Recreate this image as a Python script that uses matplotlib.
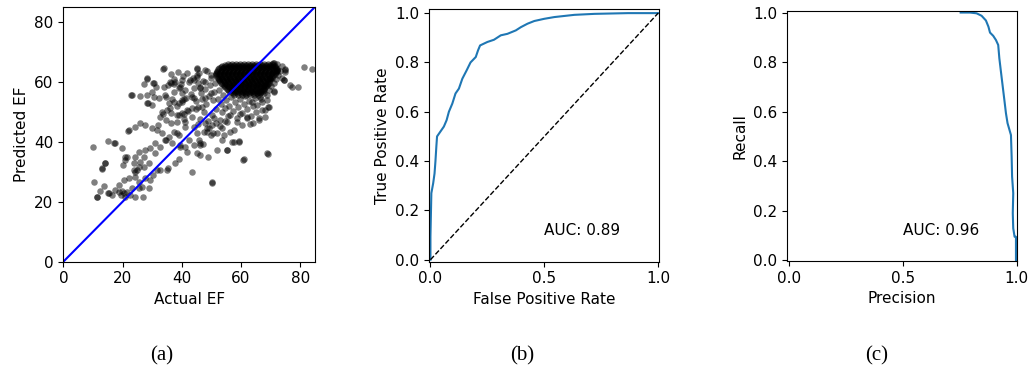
import matplotlib
matplotlib.use('Agg')
import matplotlib.pyplot as plt

# --- (a) actual vs predicted EF, sparse points
ef_actual = [10.1, 10.2, 11.3, 11.4, 13.0, 12.5, 13.1, 13.6, 14.0, 14.2, 15.0, 15.1, 15.3, 16.4, 17.0,
             17.3, 17.3, 18.7, 18.7, 19.3, 19.7, 19.8, 20.0, 20.4, 20.4, 20.8, 20.9, 20.9, 21.5, 21.5,
             22.0, 22.1, 22.1, 22.5, 23.0, 23.2, 23.2, 23.7, 23.8, 24.1, 24.3, 24.3, 24.3, 24.3, 24.9,
             25.4, 25.4, 25.4, 25.4, 26.0, 26.0, 26.0, 26.5, 27.0, 27.1, 27.1, 27.1, 27.6, 27.7, 27.7,
             28.2, 28.3, 28.3, 28.3, 28.7, 28.8, 28.8, 29.3, 29.4, 29.9, 30.0, 30.0, 30.2, 30.4, 30.5,
             30.5, 31.1, 31.1, 31.3, 31.7, 31.7, 32.1, 32.2, 32.7, 32.8, 32.8, 33.3, 33.3, 33.6, 33.8,
             34.1, 34.1, 34.3, 34.5, 34.5, 34.5, 34.9, 35.0, 35.4, 35.6, 35.6, 36.0, 36.5, 36.5, 36.5,
             36.7, 37.2, 37.3, 37.3, 37.7, 37.8, 38.3, 38.4, 38.4, 38.9, 39.0, 39.0, 39.4, 39.5, 39.5,
             40.0, 40.0, 40.1, 40.1, 40.6, 40.6, 41.1, 41.2, 41.2, 41.7, 41.8, 42.3, 42.8, 43.4, 43.4,
             43.5, 44.0, 44.0, 44.0, 45.0, 45.0, 45.0, 45.2, 45.2, 45.2, 45.6, 45.7, 46.2, 46.2, 46.2,
             46.3, 46.3, 46.9, 47.3, 47.4, 47.9, 48.0, 48.0, 48.0, 48.5, 48.5, 49.0, 49.7, 49.7, 49.7,
             50.1, 50.1, 50.2, 50.7, 50.8, 51.8, 51.9, 53.0, 53.5, 53.6, 54.2, 55.1, 55.2, 55.3, 56.4,
             56.4, 56.9, 57.5, 57.5, 58.7, 59.2, 59.2, 59.8, 60.4, 60.8, 60.9, 62.0, 62.0, 62.9, 63.8,
             64.2, 64.9, 65.4, 65.9, 66.0, 66.6, 67.1, 68.2, 68.2, 68.7, 68.8, 69.0, 69.2, 69.3, 69.9,
             71.0, 71.0, 71.0, 72.1, 72.2, 73.9, 74.4, 74.4, 74.9, 74.9, 75.0, 76.6, 77.3, 79.2, 81.1,
             83.9]
ef_predicted = [38.3, 26.7, 21.7, 21.7, 31.0, 23.7, 31.1, 25.3, 32.8, 32.8, 22.8, 40.3, 22.8, 22.2, 39.5,
                39.5, 23.9, 25.6, 23.3, 22.2, 23.5, 37.8, 32.4, 27.2, 22.8, 35.0, 21.7, 33.9, 23.3, 35.0,
                43.7, 43.9, 27.8, 22.3, 55.6, 55.6, 24.5, 30.5, 32.8, 30.0, 45.0, 35.0, 21.7, 28.3, 30.6,
                36.7, 31.7, 24.5, 26.7, 55.2, 33.3, 46.1, 25.0, 21.7, 59.2, 35.0, 31.7, 27.8, 45.6, 37.2,
                60.8, 61.1, 55.6, 52.8, 52.8, 32.8, 24.5, 27.2, 37.8, 56.7, 52.2, 44.5, 59.7, 28.9, 59.5,
                55.0, 39.5, 36.1, 58.3, 43.9, 30.6, 45.5, 54.5, 30.5, 48.3, 38.3, 50.0, 42.8, 49.4, 64.4,
                64.5, 58.3, 40.6, 54.8, 47.2, 40.6, 30.5, 50.6, 31.1, 52.8, 41.7, 60.0, 59.5, 49.5, 46.3,
                39.5, 59.4, 53.3, 43.3, 32.8, 60.0, 42.8, 48.9, 46.7, 34.4, 52.8, 42.2, 38.3, 58.3, 38.9,
                60.6, 53.9, 56.1, 49.5, 54.1, 49.4, 45.0, 38.3, 46.7, 36.7, 50.6, 40.6, 60.6, 55.0, 30.0,
                51.1, 38.9, 60.6, 54.5, 64.4, 62.2, 42.8, 64.5, 61.7, 36.1, 51.7, 40.6, 58.3, 38.9, 35.6,
                39.5, 57.8, 51.7, 39.4, 43.3, 46.1, 63.9, 60.0, 54.5, 44.5, 43.3, 35.0, 62.2, 42.2, 56.1,
                26.7, 26.1, 45.6, 42.8, 47.8, 37.2, 42.8, 47.2, 40.6, 44.5, 42.2, 37.2, 37.2, 46.7, 43.3,
                48.9, 40.0, 40.0, 43.9, 46.7, 40.2, 40.0, 49.4, 45.6, 33.9, 34.1, 47.8, 48.3, 45.8, 53.3,
                46.1, 50.0, 56.1, 47.2, 47.8, 54.4, 50.6, 50.6, 48.3, 36.1, 55.5, 35.9, 51.7, 51.7, 61.1,
                56.7, 56.9, 66.1, 63.9, 63.9, 61.1, 60.6, 60.6, 63.3, 64.4, 63.9, 58.9, 58.3, 58.3, 65.0,
                64.4]

# medium-density points around the main cloud
mid_actual = [36.2, 37.5, 38.8, 39.6, 40.3, 41.2, 41.9, 42.5, 43.1, 43.8, 44.2, 44.9, 45.3, 45.8, 46.4,
              46.9, 47.3, 47.8, 48.2, 48.6, 49.1, 49.5, 50.0, 50.4, 50.9, 51.3, 51.7, 52.2, 52.6, 53.1,
              53.6, 54.0, 54.5, 55.0, 55.6, 56.1, 56.7, 57.3, 57.9, 58.5, 59.0, 59.6, 60.2, 60.9, 61.5,
              62.1, 62.8, 63.4, 64.1, 64.8, 65.5, 66.3, 67.0, 67.8, 68.6, 69.4, 70.2, 71.0, 71.8, 72.5,
              73.2, 73.8, 70.9, 72.3, 42.0, 43.5, 44.8, 46.1, 47.4, 48.8, 50.2, 51.5, 38.5, 40.0, 41.5,
              37.2, 38.9, 35.4, 36.8, 39.2, 40.7, 44.0, 45.5, 49.3, 52.8, 54.6, 34.2, 35.9]
mid_predicted = [62.5, 61.0, 63.2, 59.1, 61.8, 57.2, 63.0, 59.8, 55.9, 61.4, 57.9, 53.6, 59.5, 62.8, 56.4,
                 54.2, 60.3, 57.6, 52.7, 63.5, 55.3, 58.9, 61.2, 53.8, 56.7, 59.6, 50.9, 54.1, 57.3, 52.5,
                 49.8, 55.6, 51.2, 53.9, 48.6, 52.0, 54.8, 50.3, 53.1, 47.9, 51.7, 54.2, 49.6, 52.6, 55.1,
                 50.8, 53.7, 48.7, 51.9, 54.6, 52.3, 55.0, 53.1, 56.2, 54.0, 57.3, 58.5, 59.6, 61.0, 62.4,
                 63.6, 65.1, 66.2, 65.8, 50.3, 48.1, 51.0, 47.5, 49.9, 47.0, 48.8, 46.3, 52.0, 53.4, 54.7,
                 56.6, 57.9, 58.8, 54.1, 49.0, 47.6, 44.8, 45.9, 44.6, 45.3, 46.8, 55.5, 51.3]

# dense cloud around (62, 61): one predicted value per row, actual values along the row
core_predicted = [66.0, 65.7, 65.3, 64.9, 64.5, 64.1, 63.7, 63.3, 62.9, 62.5, 62.1, 61.7, 61.3, 60.9,
                  60.5, 60.1, 59.7, 59.3, 58.9, 58.5, 58.1, 57.7, 57.3, 56.9, 56.5, 56.1, 55.7]
core_actual = [
    [55.6, 57.0, 58.3, 59.7, 61.0, 62.4, 63.7, 65.1, 66.4, 67.8, 69.1, 70.4],
    [54.6, 56.3, 57.6, 59.0, 60.3, 61.7, 63.0, 64.4, 65.7, 67.1, 68.4, 69.8, 70.9],
    [53.6, 54.9, 56.3, 57.6, 59.0, 60.3, 61.7, 63.0, 64.4, 65.7, 67.1, 68.4, 69.8, 71.3],
    [53.1, 54.2, 55.6, 56.9, 58.3, 59.6, 61.0, 62.3, 63.7, 65.0, 66.4, 67.7, 69.1, 70.4, 71.5],
    [52.6, 53.9, 55.3, 56.6, 58.0, 59.3, 60.7, 62.0, 63.4, 64.7, 66.1, 67.4, 68.8, 70.1, 71.7],
    [52.3, 53.6, 55.0, 56.3, 57.7, 59.0, 60.4, 61.7, 63.1, 64.4, 65.8, 67.1, 68.5, 69.8, 71.2, 72.0],
    [52.0, 53.4, 54.7, 56.1, 57.4, 58.8, 60.1, 61.5, 62.8, 64.2, 65.5, 66.9, 68.2, 69.6, 70.9, 72.1],
    [51.8, 53.1, 54.5, 55.8, 57.2, 58.5, 59.9, 61.2, 62.6, 63.9, 65.3, 66.6, 68.0, 69.3, 70.7, 71.9],
    [51.6, 52.9, 54.3, 55.6, 57.0, 58.3, 59.7, 61.0, 62.4, 63.7, 65.1, 66.4, 67.8, 69.1, 70.5, 71.6],
    [51.5, 52.6, 54.0, 55.3, 56.7, 58.0, 59.4, 60.7, 62.1, 63.4, 64.8, 66.1, 67.5, 68.8, 70.2, 71.3],
    [51.6, 53.0, 54.3, 55.7, 57.0, 58.4, 59.7, 61.1, 62.4, 63.8, 65.1, 66.5, 67.8, 69.2, 70.8],
    [51.9, 53.2, 54.6, 55.9, 57.3, 58.6, 60.0, 61.3, 62.7, 64.0, 65.4, 66.7, 68.1, 69.4, 70.6],
    [52.1, 53.5, 54.8, 56.2, 57.5, 58.9, 60.2, 61.6, 62.9, 64.3, 65.6, 67.0, 68.3, 69.7, 70.4],
    [52.4, 53.7, 55.1, 56.4, 57.8, 59.1, 60.5, 61.8, 63.2, 64.5, 65.9, 67.2, 68.6, 69.8],
    [52.6, 54.0, 55.3, 56.7, 58.0, 59.4, 60.7, 62.1, 63.4, 64.8, 66.1, 67.5, 68.8, 69.9],
    [52.9, 54.3, 55.6, 57.0, 58.3, 59.7, 61.0, 62.4, 63.7, 65.1, 66.4, 67.8, 69.1],
    [53.2, 54.5, 55.9, 57.2, 58.6, 59.9, 61.3, 62.6, 64.0, 65.3, 66.7, 68.0, 69.3],
    [53.7, 55.0, 56.4, 57.7, 59.1, 60.4, 61.8, 63.1, 64.5, 65.8, 67.2, 68.5, 69.0],
    [54.1, 55.4, 56.8, 58.1, 59.5, 60.8, 62.2, 63.5, 64.9, 66.2, 67.6, 68.8],
    [54.4, 55.8, 57.1, 58.5, 59.8, 61.2, 62.5, 63.9, 65.2, 66.6, 67.9, 68.5],
    [54.7, 56.0, 57.4, 58.7, 60.1, 61.4, 62.8, 64.1, 65.5, 66.8, 68.2],
    [55.2, 56.6, 57.9, 59.3, 60.6, 62.0, 63.3, 64.7, 66.0, 67.4, 67.9],
    [55.6, 57.0, 58.3, 59.7, 61.0, 62.4, 63.7, 65.1, 66.4, 67.7],
    [56.1, 57.5, 58.8, 60.2, 61.5, 62.9, 64.2, 65.6, 66.9, 67.3],
    [56.6, 57.9, 59.3, 60.6, 62.0, 63.3, 64.7, 66.0, 66.9],
    [57.2, 58.5, 59.9, 61.2, 62.6, 63.9, 65.3, 66.4],
    [57.6, 58.9, 60.3, 61.6, 63.0, 64.3, 65.7],
]

# --- (b) ROC curve
fpr = [0.0, 0.0, 0.004, 0.012, 0.018, 0.022, 0.026, 0.029, 0.044, 0.059, 0.071, 0.081, 0.096, 0.11,
       0.125, 0.14, 0.159, 0.176, 0.199, 0.209, 0.218, 0.25, 0.279, 0.309, 0.338, 0.375, 0.397, 0.426,
       0.456, 0.5, 0.544, 0.632, 0.72, 0.868, 1.0]
tpr = [0.0, 0.094, 0.27, 0.31, 0.35, 0.40, 0.46, 0.50, 0.52, 0.54, 0.566, 0.60, 0.633, 0.674, 0.694,
       0.734, 0.768, 0.80, 0.822, 0.849, 0.869, 0.883, 0.892, 0.91, 0.916, 0.93, 0.943, 0.957, 0.968,
       0.977, 0.984, 0.993, 0.997, 1.0, 1.0]
roc_auc = 0.89

# --- (c) precision / recall
precision = [0.754, 0.795, 0.824, 0.846, 0.865, 0.876, 0.883, 0.897, 0.909, 0.919, 0.924, 0.931, 0.939,
             0.946, 0.953, 0.960, 0.975, 0.978, 0.980, 0.985, 0.983, 0.985, 0.991, 0.997, 0.997]
recall = [1.0, 1.0, 0.997, 0.987, 0.968, 0.943, 0.919, 0.906, 0.889, 0.869, 0.815, 0.761, 0.70, 0.647,
          0.593, 0.553, 0.505, 0.418, 0.337, 0.27, 0.189, 0.128, 0.094, 0.094, 0.0]
pr_auc = 0.96

plt.rcParams['font.size'] = 11

fig = plt.figure(figsize=(10.3, 3.71), dpi=100)
ax1 = fig.add_axes([0.0615, 0.2946, 0.2444, 0.687])
ax2 = fig.add_axes([0.4168, 0.2946, 0.2233, 0.680])
ax3 = fig.add_axes([0.7638, 0.2965, 0.2239, 0.675])

# (a)
xs = ef_actual + mid_actual
ys = ef_predicted + mid_predicted
for yv, row in zip(core_predicted, core_actual):
    xs = xs + row
    ys = ys + [yv] * len(row)
ax1.scatter(xs, ys, s=22, c='black', alpha=0.5, linewidths=0)
ax1.plot([0, 85], [0, 85], color='blue', lw=1.5)
ax1.set_xlim(0, 85)
ax1.set_ylim(0, 85)
ax1.set_xticks([0, 20, 40, 60, 80])
ax1.set_yticks([0, 20, 40, 60, 80])
ax1.set_xlabel('Actual EF')
ax1.set_ylabel('Predicted EF')

# (b)
ax2.plot(fpr, tpr, color='#1f77b4', lw=1.5)
ax2.plot([0, 1], [0, 1], 'k--', lw=1)
ax2.text(0.5, 0.1, 'AUC: %.2f' % roc_auc)
ax2.set_xlim(-0.005, 1.005)
ax2.set_ylim(-0.008, 1.015)
ax2.set_xticks([0.0, 0.5, 1.0])
ax2.set_yticks([0.0, 0.2, 0.4, 0.6, 0.8, 1.0])
ax2.set_xlabel('False Positive Rate')
ax2.set_ylabel('True Positive Rate')

# (c)
ax3.plot(precision, recall, color='#1f77b4', lw=1.5)
ax3.text(0.5, 0.1, 'AUC: %.2f' % pr_auc)
ax3.set_xlim(-0.01, 1.003)
ax3.set_ylim(-0.004, 1.008)
ax3.set_xticks([0.0, 0.5, 1.0])
ax3.set_yticks([0.0, 0.2, 0.4, 0.6, 0.8, 1.0])
ax3.set_xlabel('Precision')
ax3.set_ylabel('Recall')

for x, lab in zip([0.157, 0.5065, 0.851], ['(a)', '(b)', '(c)']):
    fig.text(x, 0.04, lab, ha='center', va='center', fontsize=15, family='Liberation Serif')

fig.savefig('out.png', dpi=100)
